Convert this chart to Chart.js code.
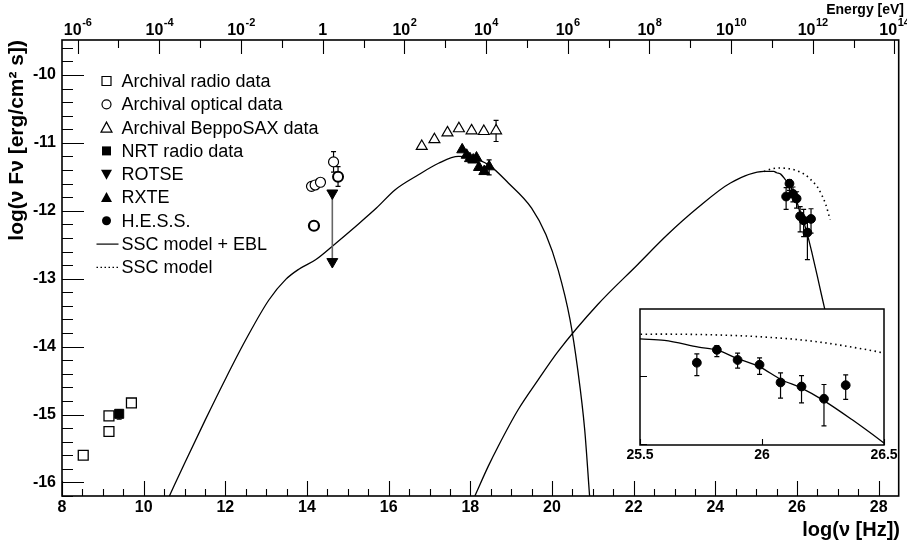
<!DOCTYPE html>
<html><head><meta charset="utf-8">
<script src="https://cdn.jsdelivr.net/npm/chart.js@4.4.1/dist/chart.umd.min.js"></script>
<style>
html,body{margin:0;padding:0;background:#fff;}
#wrap{position:relative;width:907px;height:544px;overflow:hidden;}
#main{position:absolute;left:0;top:0;}
#inset{position:absolute;left:610px;top:300px;}
</style></head><body>
<div id="wrap">
<canvas id="main" width="907" height="544" style="width:907px;height:544px"></canvas>
<canvas id="inset" width="290" height="180" style="width:290px;height:180px"></canvas>
</div>
<script>
const FONT = "'Liberation Sans', Arial, Helvetica, sans-serif";

// ---------- axis ticks / labels ----------
const xTicks = [8, 10, 12, 14, 16, 18, 20, 22, 24, 26, 28];
const yTicks = [-16, -15, -14, -13, -12, -11, -10];
const energyExps = [-6, -4, -2, 0, 2, 4, 6, 8, 10, 12, 14];
const insetXTicks = [25.5, 26, 26.5];
const LOG_H = -14.3835; // log10(h in eV s)

// ---------- data ----------
const radioArchX = [8.52, 9.15, 9.15, 9.70];
const radioArchY = [-15.60, -15.02, -15.25, -14.83];

const radioNrtX = [9.40];
const radioNrtY = [-14.99];
const radioNrtLo = [-15.07];
const radioNrtHi = [-14.93];

const opticalX = [14.11, 14.20, 14.33, 14.17, 14.65, 14.76];
const opticalY = [-11.64, -11.62, -11.58, -12.22, -11.28, -11.50];
const opticalLo = [null, null, null, null, -11.43, -11.64];
const opticalHi = [null, null, null, null, -11.13, -11.35];

const rotseX = [14.62, 14.62];
const rotseY = [-11.74, -12.75];

const saxX = [16.81, 17.12, 17.44, 17.72, 18.03, 18.33, 18.63];
const saxY = [-11.05, -10.95, -10.85, -10.79, -10.82, -10.83, -10.82];
const saxLo = [null, null, null, null, null, null, -10.98];
const saxHi = [null, null, null, null, null, null, -10.67];

const rxteX = [17.80, 17.91, 17.99, 18.07, 18.15, 18.21, 18.34, 18.46];
const rxteY = [-11.10, -11.18, -11.23, -11.25, -11.22, -11.36, -11.42, -11.35];
const rxteLo = [null, null, null, null, null, null, null, -11.47];
const rxteHi = [null, null, null, null, null, null, null, -11.25];

const hessX = [25.733, 25.815, 25.90, 25.99, 26.076, 26.162, 26.254, 26.343];
const hessY = [-11.79, -11.60, -11.75, -11.82, -12.08, -12.14, -12.32, -12.12];
const hessLo = [-11.98, -11.70, -11.87, -11.96, -12.31, -12.38, -12.72, -12.33];
const hessHi = [-11.66, -11.54, -11.65, -11.72, -11.94, -11.98, -12.11, -11.97];

// SSC model + EBL : synchrotron bump
const syncX = [10.63, 11.0, 11.5, 12.0, 12.5, 13.07, 13.48, 13.8, 14.21, 14.7, 15.19, 15.7, 16.16, 16.73, 17.22, 17.71, 18.02, 18.44, 18.93, 19.5, 19.85, 20.15, 20.44, 20.63, 20.80, 20.92];
const syncY = [-16.2, -15.72, -15.09, -14.48, -13.9, -13.31, -13.01, -12.86, -12.72, -12.48, -12.23, -11.96, -11.69, -11.47, -11.30, -11.20, -11.22, -11.32, -11.59, -11.96, -12.35, -12.87, -13.60, -14.34, -15.22, -16.2];

// SSC model + EBL : inverse Compton bump
const icX = [18.11, 18.44, 18.68, 19.17, 19.66, 20.15, 21.12, 22.10, 22.83, 23.56, 24.37, 25.19, 25.43, 25.5, 25.6, 25.74, 25.82, 25.9, 25.99, 26.08, 26.16, 26.25, 26.37, 26.5, 26.6, 26.7];
const icY = [-16.2, -15.76, -15.47, -14.93, -14.49, -14.07, -13.38, -12.79, -12.35, -11.96, -11.59, -11.42, -11.42, -11.44, -11.46, -11.56, -11.61, -11.73, -11.85, -12.04, -12.16, -12.34, -12.63, -12.97, -13.24, -13.5];

// SSC model (no EBL), where it departs from the absorbed curve
const sscX = [25.19, 25.4, 25.6, 25.8, 26.0, 26.2, 26.4, 26.5, 26.6, 26.7, 26.81];
const sscY = [-11.42, -11.38, -11.37, -11.38, -11.41, -11.47, -11.58, -11.65, -11.76, -11.90, -12.13];

const legendLabels = ['Archival radio data', 'Archival optical data', 'Archival BeppoSAX data', 'NRT radio data', 'ROTSE', 'RXTE', 'H.E.S.S.', 'SSC model + EBL', 'SSC model'];
const legendSymbols = ['sqOpen', 'circOpen', 'triOpen', 'sqFill', 'triDown', 'triFill', 'circFill', 'line', 'dot'];

const pts = (xs, ys) => xs.map((x, i) => ({ x: x, y: ys[i] }));

// ---------- plugins ----------
const errorBarPlugin = {
  id: 'errbars',
  beforeDatasetsDraw(chart) {
    const ctx = chart.ctx, xs = chart.scales.x, ys = chart.scales.y, a = chart.chartArea;
    ctx.save();
    ctx.beginPath(); ctx.rect(a.left, a.top, a.right - a.left, a.bottom - a.top); ctx.clip();
    chart.data.datasets.forEach(ds => {
      if (!ds.errLo) return;
      ctx.strokeStyle = '#000'; ctx.lineWidth = 1.2;
      ds.data.forEach((p, j) => {
        const lo = ds.errLo[j], hi = ds.errHi[j];
        if (lo == null) return;
        const x = xs.getPixelForValue(p.x), y1 = ys.getPixelForValue(lo), y2 = ys.getPixelForValue(hi);
        ctx.beginPath();
        ctx.moveTo(x, y1); ctx.lineTo(x, y2);
        ctx.moveTo(x - 2.5, y1); ctx.lineTo(x + 2.5, y1);
        ctx.moveTo(x - 2.5, y2); ctx.lineTo(x + 2.5, y2);
        ctx.stroke();
      });
    });
    ctx.restore();
  }
};

function drawSym(ctx, type, x, y) {
  ctx.save();
  ctx.strokeStyle = '#000'; ctx.fillStyle = '#000'; ctx.lineWidth = 1.2;
  const s = 4.5;
  ctx.beginPath();
  switch (type) {
    case 'sqOpen': ctx.rect(x - s, y - s, 2 * s, 2 * s); ctx.stroke(); break;
    case 'sqFill': ctx.rect(x - s, y - s, 2 * s, 2 * s); ctx.fill(); break;
    case 'circOpen': ctx.arc(x, y, s, 0, 2 * Math.PI); ctx.stroke(); break;
    case 'circFill': ctx.arc(x, y, s, 0, 2 * Math.PI); ctx.fill(); break;
    case 'triOpen': ctx.moveTo(x, y - 5.5); ctx.lineTo(x + 5.5, y + 4.5); ctx.lineTo(x - 5.5, y + 4.5); ctx.closePath(); ctx.stroke(); break;
    case 'triFill': ctx.moveTo(x, y - 5.5); ctx.lineTo(x + 5.5, y + 4.5); ctx.lineTo(x - 5.5, y + 4.5); ctx.closePath(); ctx.fill(); break;
    case 'triDown': ctx.moveTo(x, y + 5.5); ctx.lineTo(x + 5.5, y - 4.5); ctx.lineTo(x - 5.5, y - 4.5); ctx.closePath(); ctx.fill(); break;
    case 'line': ctx.moveTo(x - 10, y); ctx.lineTo(x + 12, y); ctx.stroke(); break;
    case 'dot': ctx.setLineDash([1.5, 2.5]); ctx.moveTo(x - 10, y); ctx.lineTo(x + 12, y); ctx.stroke(); break;
  }
  ctx.restore();
}

const mainDecor = {
  id: 'mainDecor',
  afterDraw(chart) {
    const ctx = chart.ctx, a = chart.chartArea, sx = chart.scales.x, sy = chart.scales.y, s2 = chart.scales.x2;
    ctx.save();
    // ticks (inward)
    ctx.strokeStyle = '#000'; ctx.lineWidth = 1.1;
    ctx.beginPath();
    for (let k = 0; k <= 41; k++) {
      const v = 8 + k * 0.5; if (v > sx.max) break;
      const x = Math.round(sx.getPixelForValue(v)) + 0.5;
      const L = (k % 4 === 0) ? 15 : 7;
      ctx.moveTo(x, a.bottom); ctx.lineTo(x, a.bottom - L);
    }
    for (let k = 0; k <= 34; k++) {
      const v = -16.2 + k * 0.2; if (v > sy.max) break;
      const y = Math.round(sy.getPixelForValue(v)) + 0.5;
      const L = (k % 5 === 1) ? 22 : 11;
      ctx.moveTo(a.left, y); ctx.lineTo(a.left + L, y);
    }
    for (let e = -6; e <= 14; e++) {
      const x = Math.round(s2.getPixelForValue(e)) + 0.5;
      const L = (e % 2 === 0) ? 14 : 8;
      ctx.moveTo(x, a.top); ctx.lineTo(x, a.top + L);
    }
    ctx.stroke();
    // frame
    ctx.lineWidth = 1.6;
    ctx.strokeRect(a.left, a.top, a.right - a.left, a.bottom - a.top);

    // top axis labels
    ctx.fillStyle = '#000';
    ctx.textBaseline = 'alphabetic';
    energyExps.forEach(e => {
      const x = s2.getPixelForValue(e);
      if (e === 0) {
        ctx.font = 'bold 16px ' + FONT; ctx.textAlign = 'center';
        ctx.fillText('1', x, 35);
        return;
      }
      ctx.font = 'bold 16px ' + FONT;
      const w1 = ctx.measureText('10').width;
      ctx.font = 'bold 11px ' + FONT;
      const ex = String(e);
      const w2 = ctx.measureText(ex).width;
      const x0 = x - (w1 + w2) / 2;
      ctx.textAlign = 'left';
      ctx.font = 'bold 16px ' + FONT; ctx.fillText('10', x0, 35);
      ctx.font = 'bold 11px ' + FONT; ctx.fillText(ex, x0 + w1 + 0.5, 26);
    });
    ctx.font = 'bold 14px ' + FONT; ctx.textAlign = 'right'; ctx.textBaseline = 'middle';
    ctx.fillText('Energy [eV]', 904, 10);

    // axis titles
    ctx.font = 'bold 20px ' + FONT; ctx.textAlign = 'right'; ctx.textBaseline = 'middle';
    ctx.fillText('log(ν [Hz])', 900, 530);
    ctx.save();
    ctx.font = 'bold 21px ' + FONT;
    ctx.translate(17, 40); ctx.rotate(-Math.PI / 2);
    ctx.fillText('log(ν Fν [erg/cm² s])', 0, 0);
    ctx.restore();

    // legend
    ctx.font = '18px ' + FONT; ctx.textAlign = 'left'; ctx.textBaseline = 'middle';
    legendLabels.forEach((t, i) => {
      const y = 81 + i * 23.3;
      drawSym(ctx, legendSymbols[i], 106.5, y);
      ctx.fillStyle = '#000';
      ctx.fillText(t, 121.5, y + 1);
    });
    ctx.restore();
  }
};

const commonTickFont = { family: FONT, size: 16, weight: 'bold' };

new Chart(document.getElementById('main'), {
  type: 'scatter',
  data: {
    datasets: [
      { data: pts(radioArchX, radioArchY), pointStyle: 'rect', pointRadius: 7, pointBorderWidth: 1.3, pointBorderColor: '#000', pointBackgroundColor: '#fff', order: 1 },
      { data: pts(radioNrtX, radioNrtY), errLo: radioNrtLo, errHi: radioNrtHi, pointStyle: 'rect', pointRadius: 6.4, pointBorderWidth: 1, pointBorderColor: '#000', pointBackgroundColor: '#000', order: 1 },
      { data: pts(opticalX, opticalY), errLo: opticalLo, errHi: opticalHi, pointStyle: 'circle', pointRadius: 5, pointBorderWidth: [1.2, 1.2, 1.2, 2.2, 1.2, 2.0], pointBorderColor: '#000', pointBackgroundColor: '#fff', order: 1 },
      { data: pts(rotseX, rotseY), showLine: true, borderColor: '#666', borderWidth: 1.6, pointStyle: 'triangle', pointRotation: 180, pointRadius: 6.3, pointBorderWidth: 1, pointBorderColor: '#000', pointBackgroundColor: '#000', order: 2 },
      { data: pts(saxX, saxY), errLo: saxLo, errHi: saxHi, pointStyle: 'triangle', pointRadius: 6.3, pointBorderWidth: 1.2, pointBorderColor: '#000', pointBackgroundColor: '#fff', order: 1 },
      { data: pts(rxteX, rxteY), errLo: rxteLo, errHi: rxteHi, pointStyle: 'triangle', pointRadius: 6.3, pointBorderWidth: 1, pointBorderColor: '#000', pointBackgroundColor: '#000', order: 1 },
      { data: pts(hessX, hessY), errLo: hessLo, errHi: hessHi, pointStyle: 'circle', pointRadius: 4.4, pointBorderWidth: 1, pointBorderColor: '#000', pointBackgroundColor: '#000', order: 1 },
      { data: pts(syncX, syncY), showLine: true, borderColor: '#000', borderWidth: 1.3, pointRadius: 0, cubicInterpolationMode: 'monotone', order: 10 },
      { data: pts(icX, icY), showLine: true, borderColor: '#000', borderWidth: 1.3, pointRadius: 0, cubicInterpolationMode: 'monotone', order: 10 },
      { data: pts(sscX, sscY), showLine: true, borderColor: '#000', borderWidth: 1.6, borderDash: [1.5, 3.5], pointRadius: 0, cubicInterpolationMode: 'monotone', order: 11 }
    ]
  },
  options: {
    responsive: false, animation: false, devicePixelRatio: 1,
    layout: { padding: { left: 0, right: 5, top: 0, bottom: 0 } },
    plugins: { legend: { display: false }, tooltip: { enabled: false } },
    elements: { line: { fill: false } },
    scales: {
      x: {
        type: 'linear', position: 'bottom', min: 8, max: 28.49,
        afterFit: s => { s.height = 48; },
        afterBuildTicks: s => { s.ticks = xTicks.map(v => ({ value: v })); },
        grid: { display: false, drawTicks: false, tickLength: 0 },
        border: { display: false },
        ticks: { font: commonTickFont, color: '#000', padding: 2, autoSkip: false, maxRotation: 0, callback: v => String(v) }
      },
      x2: {
        type: 'linear', position: 'top', min: 8 + LOG_H, max: 28.49 + LOG_H,
        afterFit: s => { s.height = 40; },
        grid: { display: false, drawTicks: false, tickLength: 0 },
        border: { display: false },
        ticks: { display: false }
      },
      y: {
        type: 'linear', position: 'left', min: -16.2, max: -9.485,
        afterFit: s => { s.width = 62; },
        afterBuildTicks: s => { s.ticks = yTicks.map(v => ({ value: v })); },
        grid: { display: false, drawTicks: false, tickLength: 0 },
        border: { display: false },
        ticks: { font: commonTickFont, color: '#000', padding: 6, autoSkip: false, callback: v => String(v) }
      }
    }
  },
  plugins: [errorBarPlugin, mainDecor]
});

// ---------- inset ----------
const insetDecor = {
  id: 'insetDecor',
  beforeDraw(chart) {
    const ctx = chart.ctx, a = chart.chartArea;
    ctx.save(); ctx.fillStyle = '#fff';
    ctx.fillRect(a.left, a.top, a.right - a.left, a.bottom - a.top);
    ctx.restore();
  },
  afterDraw(chart) {
    const ctx = chart.ctx, a = chart.chartArea, sx = chart.scales.x, sy = chart.scales.y;
    ctx.save();
    ctx.strokeStyle = '#000'; ctx.lineWidth = 1.1;
    ctx.beginPath();
    [-12, -13].forEach(v => { const y = Math.round(sy.getPixelForValue(v)) - 0.5; ctx.moveTo(a.left, y); ctx.lineTo(a.left + 7, y); });
    insetXTicks.forEach(v => { const x = Math.round(sx.getPixelForValue(v)) + 0.5; ctx.moveTo(x, a.bottom); ctx.lineTo(x, a.bottom - 6); });
    ctx.stroke();
    ctx.lineWidth = 1.5;
    ctx.strokeRect(a.left, a.top, a.right - a.left, a.bottom - a.top);
    ctx.restore();
  }
};

new Chart(document.getElementById('inset'), {
  type: 'scatter',
  data: {
    datasets: [
      { data: pts(hessX, hessY), errLo: hessLo, errHi: hessHi, pointStyle: 'circle', pointRadius: 4.4, pointBorderWidth: 1, pointBorderColor: '#000', pointBackgroundColor: '#000', order: 1 },
      { data: pts(icX, icY), showLine: true, borderColor: '#000', borderWidth: 1.3, pointRadius: 0, cubicInterpolationMode: 'monotone', order: 10 },
      { data: pts(sscX, sscY), showLine: true, borderColor: '#000', borderWidth: 1.6, borderDash: [1.5, 3.5], pointRadius: 0, cubicInterpolationMode: 'monotone', order: 11 }
    ]
  },
  options: {
    responsive: false, animation: false, devicePixelRatio: 1,
    layout: { padding: { left: 0, right: 16, top: 9, bottom: 0 } },
    plugins: { legend: { display: false }, tooltip: { enabled: false } },
    scales: {
      x: {
        type: 'linear', min: 25.5, max: 26.5,
        afterFit: s => { s.height = 35; },
        afterBuildTicks: s => { s.ticks = insetXTicks.map(v => ({ value: v })); },
        grid: { display: false, drawTicks: false, tickLength: 0 },
        border: { display: false },
        ticks: { font: { family: FONT, size: 14, weight: 'bold' }, color: '#000', padding: 2, autoSkip: false, maxRotation: 0, callback: v => String(v) }
      },
      y: {
        type: 'linear', min: -13, max: -11,
        afterFit: s => { s.width = 30; },
        grid: { display: false, drawTicks: false, tickLength: 0 },
        border: { display: false },
        ticks: { display: false }
      }
    }
  },
  plugins: [insetDecor, errorBarPlugin]
});
</script>
</body></html>
